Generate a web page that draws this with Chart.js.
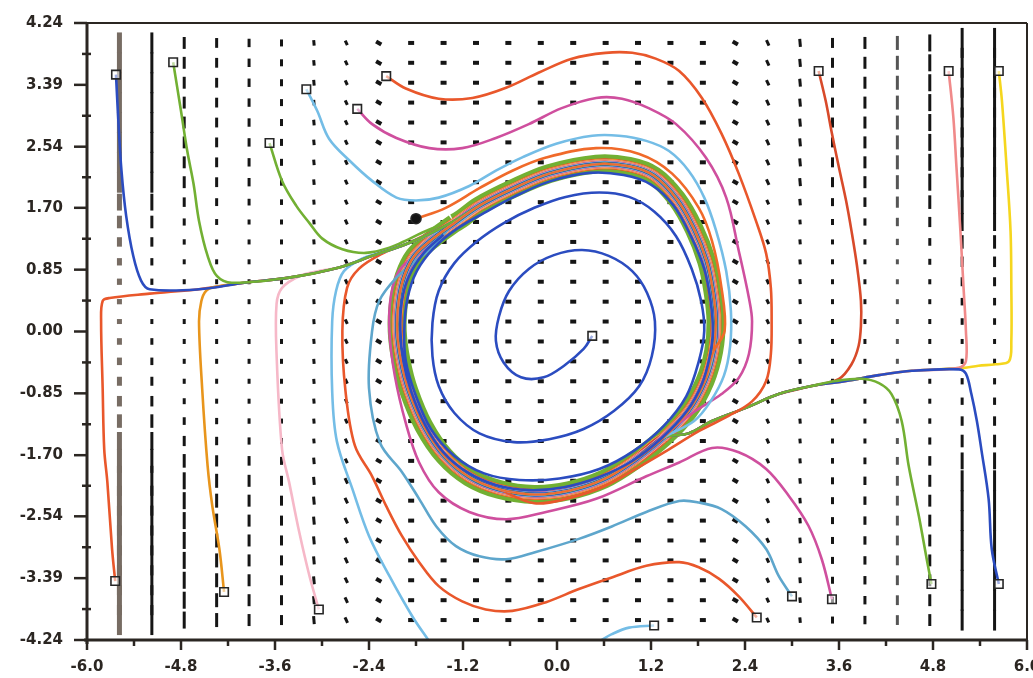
<!DOCTYPE html>
<html>
<head>
<meta charset="utf-8">
<title>Phase portrait</title>
<script src="https://cdn.jsdelivr.net/npm/chart.js@4.4.1/dist/chart.umd.min.js"></script>
<style>
html,body{margin:0;padding:0;background:#ffffff;overflow:hidden;}
#wrap{position:relative;width:1033px;height:678px;}
canvas{display:block;}
</style>
</head>
<body>
<div id="wrap"><canvas id="chart" width="1033" height="678"></canvas></div>
<script>
// ---------- axis ticks ----------
const xTickValues = [-6.0,-4.8,-3.6,-2.4,-1.2,0.0,1.2,2.4,3.6,4.8,6.0];
const xTickLabels = ['-6.0','-4.8','-3.6','-2.4','-1.2','0.0','1.2','2.4','3.6','4.8','6.0'];
const yTickValues = [-4.24,-3.39,-2.54,-1.70,-0.85,0.00,0.85,1.70,2.54,3.39,4.24];
const yTickLabels = ['-4.24','-3.39','-2.54','-1.70','-0.85','0.00','0.85','1.70','2.54','3.39','4.24'];

// ---------- direction-field grid ----------
const fieldX = [-5.586,-5.172,-4.759,-4.345,-3.931,-3.517,-3.103,-2.690,-2.276,-1.862,-1.448,-1.034,-0.621,-0.207,0.207,0.621,1.034,1.448,1.862,2.276,2.690,3.103,3.517,3.931,4.345,4.759,5.172,5.586];
const fieldY = [-3.966,-3.693,-3.419,-3.146,-2.872,-2.599,-2.325,-2.052,-1.778,-1.505,-1.231,-0.958,-0.684,-0.410,-0.137,0.137,0.410,0.684,0.958,1.231,1.505,1.778,2.052,2.325,2.599,2.872,3.146,3.419,3.693,3.966];

// ---------- limit cycle ----------
const limitCycle = [[-2.04,0.01],[-2.02,0.42],[-1.95,0.76],[-1.82,1.04],[-1.59,1.27],[-1.31,1.49],[-0.99,1.73],[-0.57,1.96],[-0.10,2.17],[0.50,2.30],[0.92,2.27],[1.24,2.14],[1.53,1.82],[1.75,1.41],[1.91,0.97],[1.99,0.56],[2.03,0.14],[2.00,-0.27],[1.89,-0.68],[1.68,-1.09],[1.36,-1.46],[0.98,-1.78],[0.60,-2.03],[0.15,-2.19],[-0.29,-2.24],[-0.74,-2.17],[-1.12,-2.00],[-1.44,-1.71],[-1.70,-1.30],[-1.89,-0.82],[-1.99,-0.41]];

// shared inflow paths
const leftInflow  = [[-5.20,0.56],[-4.57,0.58],[-3.99,0.67],[-3.42,0.74],[-2.78,0.88],[-2.36,1.04],[-1.93,1.20],[-1.63,1.34],[-1.31,1.52]];
const rightInflow = [[5.13,-0.52],[4.53,-0.54],[4.11,-0.60],[3.69,-0.68],[3.25,-0.75],[2.83,-0.86],[2.41,-1.05],[1.98,-1.23],[1.68,-1.40]];

// ---------- individual trajectories ----------
const blueNW = [[-5.63,3.53],[-5.60,2.90],[-5.56,2.21],[-5.50,1.59],[-5.41,1.04],[-5.31,0.70],[-5.20,0.58]];
const greenNW = [[-4.90,3.70],[-4.80,3.03],[-4.72,2.48],[-4.64,2.03],[-4.57,1.52],[-4.46,1.04],[-4.34,0.76],[-4.15,0.67]];
const greenW = [[-3.67,2.59],[-3.51,2.07],[-3.33,1.73],[-3.16,1.49],[-3.00,1.28],[-2.74,1.13],[-2.44,1.08],[-2.14,1.15],[-1.89,1.27],[-1.59,1.42]];
const skyTop = [[-3.20,3.33],[-3.06,3.03],[-2.91,2.65],[-2.65,2.35],[-2.36,2.07],[-2.05,1.84],[-1.80,1.80],[-1.51,1.84],[-1.12,2.00],[-0.78,2.21],[-0.45,2.39],[-0.01,2.58],[0.45,2.69],[0.79,2.69],[1.14,2.62],[1.43,2.48],[1.68,2.21],[1.88,1.84],[2.03,1.39],[2.16,0.83],[2.22,0.28],[2.21,-0.20],[2.13,-0.61],[1.96,-0.96],[1.75,-1.23]];
const magentaTop = [[-2.55,3.06],[-2.36,2.85],[-2.05,2.66],[-1.63,2.52],[-1.21,2.52],[-0.78,2.66],[-0.36,2.85],[0.06,3.07],[0.50,3.21],[0.83,3.20],[1.17,3.07],[1.52,2.85],[1.90,2.39],[2.16,1.84],[2.32,1.11],[2.45,0.46],[2.49,0.14],[2.45,-0.31],[2.32,-0.64],[2.10,-0.86],[1.77,-1.09],[1.43,-1.37]];
const redTop = [[-2.18,3.51],[-1.93,3.34],[-1.51,3.20],[-1.08,3.21],[-0.65,3.35],[-0.23,3.56],[0.19,3.75],[0.62,3.83],[0.96,3.83],[1.26,3.75],[1.56,3.58],[1.85,3.21],[2.10,2.72],[2.32,2.17],[2.54,1.52],[2.67,1.07],[2.73,0.60],[2.74,0.14],[2.73,-0.31],[2.67,-0.68],[2.49,-0.96],[2.19,-1.16],[1.81,-1.37],[1.43,-1.62],[1.05,-1.86],[0.60,-2.13],[0.15,-2.29],[-0.29,-2.36]];
const orangeDot = [[-1.80,1.55],[-1.42,1.70],[-0.99,1.97],[-0.57,2.21],[-0.14,2.39],[0.50,2.52],[1.05,2.44],[1.47,2.17],[1.81,1.70],[1.98,1.24],[2.10,0.60],[2.14,0.01]];
const spiral = [[0.45,-0.06],[0.34,-0.24],[0.09,-0.47],[-0.17,-0.63],[-0.46,-0.63],[-0.68,-0.43],[-0.78,-0.13],[-0.74,0.21],[-0.61,0.56],[-0.36,0.86],[-0.04,1.05],[0.32,1.12],[0.66,1.04],[0.96,0.83],[1.15,0.53],[1.25,0.14],[1.21,-0.34],[1.05,-0.75],[0.73,-1.09],[0.34,-1.34],[-0.10,-1.48],[-0.55,-1.52],[-0.99,-1.40],[-1.31,-1.12],[-1.51,-0.75],[-1.59,-0.34],[-1.59,0.12],[-1.51,0.56],[-1.31,0.94],[-1.02,1.24],[-0.68,1.49],[-0.29,1.70],[0.11,1.85],[0.54,1.91],[0.92,1.85],[1.24,1.65],[1.52,1.31],[1.72,0.86],[1.84,0.42],[1.88,0.01],[1.81,-0.41],[1.65,-0.89],[1.36,-1.30],[0.98,-1.64],[0.54,-1.89],[0.03,-2.02],[-0.48,-2.04],[-0.93,-1.95],[-1.31,-1.71],[-1.61,-1.34],[-1.81,-0.86],[-1.93,-0.41],[-1.95,0.01],[-1.91,0.45],[-1.79,0.83],[-1.57,1.15],[-1.28,1.41],[-0.93,1.63],[-0.55,1.85],[-0.10,2.06],[0.41,2.18],[0.85,2.15],[1.20,2.02],[1.49,1.73],[1.71,1.31],[1.88,0.86],[1.96,0.42],[1.99,0.01],[1.95,-0.34],[1.85,-0.72],[1.66,-1.09],[1.34,-1.46],[0.96,-1.78],[0.54,-2.00],[0.09,-2.14],[-0.36,-2.18],[-0.78,-2.11],[-1.15,-1.93],[-1.45,-1.66],[-1.68,-1.29],[-1.86,-0.83],[-1.96,-0.41],[-2.00,0.01],[-1.98,0.42],[-1.89,0.76],[-1.70,1.08],[-1.45,1.33]];
const redSE = [[2.55,-3.93],[2.32,-3.64],[2.07,-3.40],[1.81,-3.24],[1.56,-3.17],[1.14,-3.22],[0.70,-3.38],[0.28,-3.54],[-0.14,-3.72],[-0.57,-3.84],[-0.91,-3.82],[-1.21,-3.71],[-1.51,-3.50],[-1.76,-3.17],[-1.98,-2.81],[-2.18,-2.40],[-2.36,-1.99],[-2.58,-1.57],[-2.70,-0.82],[-2.74,0.01],[-2.68,0.60],[-2.53,0.86],[-2.23,1.07],[-1.93,1.20],[-1.63,1.35]];
const steelSE = [[3.00,-3.64],[2.83,-3.36],[2.67,-2.99],[2.41,-2.68],[2.10,-2.44],[1.81,-2.35],[1.56,-2.33],[1.14,-2.48],[0.70,-2.68],[0.28,-2.85],[-0.27,-3.03],[-0.65,-3.13],[-0.99,-3.09],[-1.29,-2.95],[-1.54,-2.68],[-1.76,-2.30],[-1.98,-1.93],[-2.26,-1.53],[-2.40,-0.78],[-2.36,0.01],[-2.27,0.42],[-2.05,0.74],[-1.80,0.97],[-1.59,1.16]];
const magentaSE = [[3.51,-3.68],[3.38,-3.13],[3.21,-2.67],[2.96,-2.26],[2.67,-1.89],[2.32,-1.66],[1.98,-1.60],[1.56,-1.80],[1.14,-1.99],[0.50,-2.30],[-0.14,-2.48],[-0.65,-2.58],[-1.12,-2.48],[-1.51,-2.21],[-1.76,-1.80],[-1.93,-1.26],[-2.07,-0.61],[-2.14,0.01],[-2.12,0.49],[-2.02,0.83]];
const skyBottom = [[1.24,-4.04],[0.92,-4.07],[0.70,-4.16],[0.54,-4.26],null,[-1.63,-4.26],[-1.85,-3.91],[-2.14,-3.36],[-2.40,-2.81],[-2.61,-2.17],[-2.81,-1.51],[-2.87,-0.82],[-2.87,0.14],[-2.82,0.56],[-2.72,0.83],[-2.49,1.00],[-2.23,1.09],[-1.93,1.20]];
const redSW = [[-5.64,-3.43],[-5.68,-2.99],[-5.74,-2.07],[-5.78,-1.62],[-5.80,-0.78],[-5.82,0.14],[-5.80,0.42],[-5.71,0.46],[-5.20,0.52],[-4.99,0.54]];
const amberSW = [[-4.25,-3.58],[-4.31,-2.99],[-4.40,-2.40],[-4.46,-1.85],[-4.53,-0.78],[-4.57,0.14],[-4.54,0.42],[-4.48,0.56],[-4.38,0.61]];
const pinkSW = [[-3.04,-3.82],[-3.16,-3.36],[-3.29,-2.76],[-3.42,-2.07],[-3.51,-1.62],[-3.58,-0.31],[-3.58,0.38],[-3.51,0.60],[-3.29,0.76],[-3.04,0.83]];
const redNE = [[3.34,3.58],[3.43,3.17],[3.51,2.72],[3.60,2.25],[3.69,1.80],[3.76,1.38],[3.83,0.90],[3.88,0.42],[3.88,0.08],[3.85,-0.20],[3.76,-0.45],[3.60,-0.65]];
const salmonNE = [[5.00,3.58],[5.06,2.94],[5.10,2.25],[5.15,1.38],[5.19,0.60],[5.22,0.01],[5.22,-0.41],[5.13,-0.50]];
const yellowNE = [[5.64,3.58],[5.68,3.17],[5.74,2.25],[5.79,1.38],[5.80,0.60],[5.80,-0.13],[5.77,-0.41],[5.60,-0.45],[5.38,-0.47],[5.19,-0.50]];
const blueSE = [[5.64,-3.47],[5.55,-2.99],[5.51,-2.30],[5.42,-1.64],[5.36,-1.23],[5.29,-0.86],[5.22,-0.58],[5.13,-0.52]];
const greenSE = [[4.78,-3.47],[4.72,-3.13],[4.62,-2.54],[4.49,-1.85],[4.40,-1.23],[4.27,-0.86],[4.11,-0.71],[3.89,-0.65],[3.56,-0.68]];

// ---------- styles (kept separate from data) ----------
const fieldColLen   = [30,30,17,14,12,10,8,6,6,6,6,6,6,6,6,6,6,6,6,6,6,8,10,12,14,17,30,30];
const fieldColAngle = [90,90,90,90,90,90,85,65,30,0,0,0,0,0,0,0,0,0,0,30,65,85,90,90,90,90,90,90];
const fieldRowScale = [1,1,1,1,1,1,1,1,0.8,0.6,0.45,0.35,0.3,0.25,0.22,0.22,0.25,0.3,0.35,0.45,0.6,0.8,1,1,1,1,1,1,1,1];
const quietQuadrantScale = 0.7;   // upper-left / lower-right marks are drawn shorter

const C = {
  blue:'#2b4cc0', green:'#72b033', sky:'#74bde6', steel:'#5ea6cc', magenta:'#cf4f9e',
  red:'#e9572b', orange:'#f06a2a', amber:'#e8951c', pink:'#f6b8c8', salmon:'#f08a8a',
  yellow:'#f5d61e', darkred:'#d84a2a'
};

// trajectory table: approach, inflow, inflow start, cycle start, colour, bundle width, order
const trajectories = [
  {p: greenW,     m: null,        mf: 0, cf: 5,  c: C.green,   bw: 19,  o: 50},
  {p: redSE,      m: null,        mf: 0, cf: 5,  c: C.red,     bw: 11,  o: 49},
  {p: redSW,      m: leftInflow,  mf: 1, cf: 6,  c: C.red,     bw: 10,  o: 48},
  {p: yellowNE,   m: rightInflow, mf: 1, cf: 20, c: C.yellow,  bw: 9.5, o: 47},
  {p: salmonNE,   m: rightInflow, mf: 1, cf: 20, c: C.salmon,  bw: 9,   o: 46},
  {p: redNE,      m: rightInflow, mf: 4, cf: 20, c: C.darkred, bw: 8.5, o: 45},
  {p: pinkSW,     m: leftInflow,  mf: 4, cf: 6,  c: C.pink,    bw: 8,   o: 44},
  {p: amberSW,    m: leftInflow,  mf: 2, cf: 6,  c: C.amber,   bw: 7,   o: 43},
  {p: magentaSE,  m: null,        mf: 0, cf: 3,  c: C.magenta, bw: 6.5, o: 42},
  {p: skyBottom,  m: null,        mf: 0, cf: 5,  c: C.sky,     bw: 5.5, o: 41},
  {p: steelSE,    m: null,        mf: 0, cf: 5,  c: C.steel,   bw: 4.5, o: 40},
  {p: blueSE,     m: rightInflow, mf: 1, cf: 20, c: C.blue,    bw: 4,   o: 39},
  {p: blueNW,     m: leftInflow,  mf: 1, cf: 6,  c: C.blue,    bw: 3.5, o: 38},
  {p: greenSE,    m: rightInflow, mf: 4, cf: 20, c: C.green,   bw: 3,   o: 37},
  {p: greenNW,    m: leftInflow,  mf: 3, cf: 6,  c: C.green,   bw: 2,   o: 36},
  {p: redTop,     m: null,        mf: 0, cf: 25, c: C.red,     bw: 2,   o: 35},
  {p: magentaTop, m: null,        mf: 0, cf: 21, c: C.magenta, bw: 2,   o: 34},
  {p: skyTop,     m: null,        mf: 0, cf: 20, c: C.sky,     bw: 2,   o: 33},
  {p: orangeDot,  m: null,        mf: 0, cf: 17, c: C.orange,  bw: 2,   o: 32, dot: true},
  {p: spiral,     m: null,        mf: 0, cf: null, c: C.blue,  bw: 2.6, o: 31}
];

function buildPath(t) {
  const pts = [];
  t.p.forEach(q => pts.push(q ? {x: q[0], y: q[1]} : {x: null, y: null}));
  if (t.m) t.m.slice(t.mf).forEach(q => pts.push({x: q[0], y: q[1]}));
  const nBefore = pts.length;
  if (t.cf !== null) {
    for (let k = 0; k <= limitCycle.length; k++) {
      const q = limitCycle[(t.cf + k) % limitCycle.length];
      pts.push({x: q[0], y: q[1]});
    }
  }
  return {pts, nBefore};
}

const LW = 2.6;
const datasets = trajectories.map(t => {
  const {pts, nBefore} = buildPath(t);
  return {
    type: 'scatter',
    data: pts,
    showLine: true,
    spanGaps: false,
    fill: false,
    tension: 0.35,
    borderColor: t.c,
    borderWidth: LW,
    segment: { borderWidth: ctx => (ctx.p0DataIndex >= nBefore ? t.bw : LW) },
    pointStyle: t.dot ? 'circle' : 'rect',
    pointRadius: ctx => (ctx.dataIndex === 0 ? (t.dot ? 5 : 6) : 0),
    pointHoverRadius: 0,
    pointBackgroundColor: t.dot ? '#151515' : 'rgba(255,255,255,0.55)',
    pointBorderColor: '#262626',
    pointBorderWidth: 1.6,
    order: t.o
  };
});

// direction-field marks: one dataset per grid row, one point per grid column
function markLen(col, row) {
  const a = fieldColAngle[col];
  const base = fieldColLen[col];
  if (a < 60) return base;
  const quiet = ((fieldX[col] < 0) === (fieldY[row] > 0)) ? quietQuadrantScale : 1;
  return Math.max(5, base * fieldRowScale[row] * quiet);
}
fieldY.forEach((fy, row) => {
  datasets.push({
    type: 'scatter',
    data: fieldX.map(fx => ({x: fx, y: fy})),
    showLine: false,
    pointStyle: 'line',
    pointRadius: fieldX.map((fx, col) => markLen(col, row) / 2),
    pointHoverRadius: 0,
    pointRotation: fieldColAngle,
    pointBorderWidth: fieldX.map((fx, col) => (fieldColAngle[col] >= 60 ? (col === 0 ? 5 : 3) : 4)),
    pointBorderColor: fieldX.map((fx, col) => (col === 0 ? '#776c63' : (col === 24 ? '#555555' : '#151515'))),
    order: 100
  });
});

const frameColor = '#2b2622';
const tickFontCss = 'bold 15px "DejaVu Sans"';
const axisPlugin = {
  id: 'axisFrame',
  afterDraw(chart) {
    const {ctx, chartArea} = chart;
    const {left, right, top, bottom} = chartArea;
    const xs = chart.scales.x, ys = chart.scales.y;
    const seg = (x1, y1, x2, y2) => { ctx.beginPath(); ctx.moveTo(x1, y1); ctx.lineTo(x2, y2); ctx.stroke(); };
    ctx.save();
    ctx.strokeStyle = frameColor;
    ctx.lineWidth = 2;
    seg(left, top, right, top);
    seg(right, top, right, bottom);
    ctx.lineWidth = 3;
    seg(left, top - 1, left, bottom + 4);
    seg(left - 3, bottom, right + 1, bottom);
    ctx.lineWidth = 2.5;
    yTickValues.forEach(v => { const py = ys.getPixelForValue(v); seg(left - 13, py, left, py); });
    for (let k = 0; k < yTickValues.length - 1; k++) {
      const py = ys.getPixelForValue((yTickValues[k] + yTickValues[k + 1]) / 2);
      seg(left - 5, py, left + 4, py);
    }
    xTickValues.forEach(v => { const px = xs.getPixelForValue(v); seg(px, bottom, px, bottom + 10); });
    for (let k = 0; k < xTickValues.length - 1; k++) {
      const px = xs.getPixelForValue((xTickValues[k] + xTickValues[k + 1]) / 2);
      seg(px, bottom, px, bottom + 6);
    }
    // x tick labels drawn at the scale's tick positions
    ctx.fillStyle = frameColor;
    ctx.font = tickFontCss;
    ctx.textAlign = 'center';
    ctx.textBaseline = 'middle';
    xTickValues.forEach((v, k) => ctx.fillText(xTickLabels[k], xs.getPixelForValue(v), bottom + 27));
    ctx.restore();
  }
};

new Chart(document.getElementById('chart'), {
  type: 'scatter',
  data: {datasets},
  options: {
    responsive: false,
    animation: false,
    devicePixelRatio: 1,
    events: [],
    layout: {autoPadding: false, padding: {top: 23, right: 6, left: 0, bottom: 0}},
    plugins: {legend: {display: false}, tooltip: {enabled: false}},
    scales: {
      x: {
        type: 'linear', min: -6, max: 6,
        afterBuildTicks: s => { s.ticks = xTickValues.map(v => ({value: v})); },
        afterFit: s => { s.height = 38; s.paddingLeft = 0; s.paddingRight = 0; },
        ticks: {display: false},
        grid: {display: false, drawTicks: false},
        border: {display: false}
      },
      y: {
        type: 'linear', min: -4.24, max: 4.24,
        afterBuildTicks: s => { s.ticks = yTickValues.map(v => ({value: v})); },
        afterFit: s => { s.width = 87; s.paddingTop = 0; s.paddingBottom = 0; },
        ticks: {callback: (v, i) => yTickLabels[i], font: {family: 'DejaVu Sans', weight: 'bold', size: 15}, color: frameColor, padding: 24, autoSkip: false},
        grid: {display: false, drawTicks: false},
        border: {display: false}
      }
    }
  },
  plugins: [axisPlugin]
});
</script>
</body>
</html>
